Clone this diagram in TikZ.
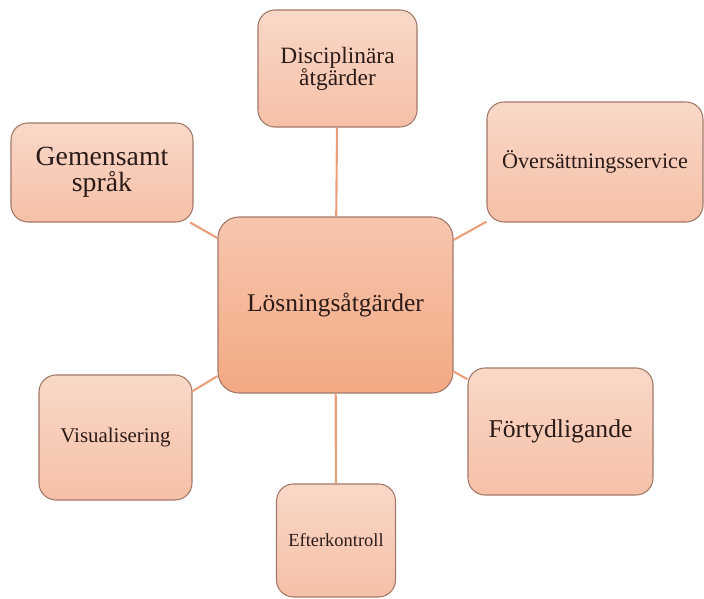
\documentclass[tikz,border=0pt]{standalone}
\usepackage{fontspec}
\setmainfont{Liberation Serif}
\usepackage{xcolor}

\definecolor{boxline}{HTML}{A27868}
\definecolor{linkline}{HTML}{EA9E7C}
\definecolor{maintop}{HTML}{F7C6AE}
\definecolor{mainbot}{HTML}{F3A983}
\definecolor{subtop}{HTML}{F9D8C8}
\definecolor{subbot}{HTML}{F6C0A7}
\definecolor{txt}{HTML}{2B1B18}

\tikzset{
  mainbox/.style={draw=boxline, line width=0.6pt, rounded corners=0.42cm,
    top color=maintop, bottom color=mainbot, text=txt, align=center,
    minimum width=4.70cm, minimum height=3.52cm, inner sep=0pt},
  subbox/.style={draw=boxline, line width=0.6pt, rounded corners=0.34cm,
    top color=subtop, bottom color=subbot, text=txt, align=center, inner sep=0pt},
  link/.style={linkline, line width=1.2pt}
}

\begin{document}
\begin{tikzpicture}
                \useasboundingbox (0,0) rectangle (14.08,-11.98);

                %% center
                \node[mainbox, font=\fontsize{14.5}{17}\selectfont] (losning) at (6.71,-6.10) {Lösningsåtgärder};

                %% around
                \node[subbox, minimum width=3.18cm, minimum height=2.34cm, font=\fontsize{13.3}{12.5}\selectfont]
                    (disc) at (6.75,-1.37) {Disciplinära\\åtgärder};
                \node[subbox, minimum width=4.32cm, minimum height=2.40cm, font=\fontsize{12.6}{15}\selectfont]
                    (over) at (11.90,-3.24) {Översättningsservice};
                \node[subbox, minimum width=3.64cm, minimum height=1.98cm, font=\fontsize{15.8}{14.5}\selectfont]
                    (gem) at (2.04,-3.45) {Gemensamt\\språk};
                \node[subbox, minimum width=3.06cm, minimum height=2.50cm, font=\fontsize{11.9}{14}\selectfont]
                    (vis) at (2.31,-8.75) {Visualisering};
                \node[subbox, minimum width=2.38cm, minimum height=2.26cm, font=\fontsize{10.5}{13}\selectfont]
                    (efter) at (6.72,-10.81) {Efterkontroll};
                \node[subbox, minimum width=3.70cm, minimum height=2.54cm, font=\fontsize{14.6}{17}\selectfont]
                    (fort) at (11.21,-8.63) {Förtydligande};

                %% links
                \draw[link] (losning) -- (disc);
                \draw[link] (losning) -- (over);
                \draw[link] (losning) -- (gem);
                \draw[link] (losning) -- (vis);
                \draw[link] (losning) -- (efter);
                \draw[link] (losning) -- (fort);

\end{tikzpicture}
\end{document}
